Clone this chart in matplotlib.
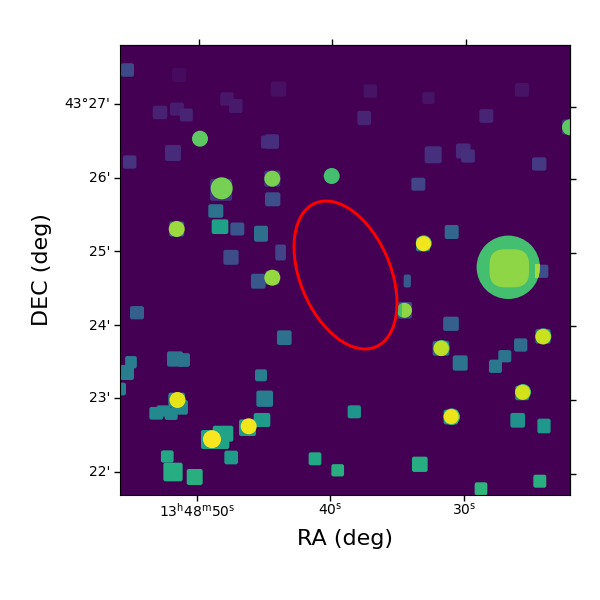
import matplotlib
matplotlib.use("Agg")
import matplotlib.pyplot as plt
from matplotlib.patches import Circle, Ellipse, FancyBboxPatch, Rectangle
from matplotlib.transforms import ScaledTranslation

# square apertures, image coordinates
square_x = [127.5, 179, 278.5, 227, 235.8, 177, 160, 186.3, 272, 267, 173, 129.7, 221.1, 272.3,
            272.7, 215.8, 220, 237.3, 261, 176.7, 231, 280.6, 370.3, 428.5, 522, 364.2, 486.3,
            433.2, 463.3, 468, 539.2, 418.3, 451.7, 423, 541.7, 407.3, 404.7, 451, 441, 460.2,
            520.7, 504.8, 495.5, 543, 522.2, 450.8, 354.3, 517.7, 544, 419.8, 539.8, 481, 337.7,
            258.3, 272.3, 137, 284.3, 175, 184, 131, 127, 119, 261, 264.7, 176.7, 179.8, 156.3,
            163.3, 171.2, 262, 247.5, 210.8, 223, 220.7, 231.2, 167.3, 173, 194.7, 315]
square_y = [70, 75, 89, 99, 106, 109, 112.5, 115, 141.5, 142, 153, 162, 189.8, 178.7, 199.3, 211,
            226.7, 229, 233.7, 229, 257.3, 252.5, 91, 98, 89.8, 118, 116, 154.8, 151, 156, 164,
            184.2, 232, 244.5, 271.3, 281, 310.3, 323.8, 348.3, 363, 345, 356.2, 366.3, 336.3,
            393, 417, 411.8, 420.3, 426, 464.3, 481.2, 488.8, 470.3, 281.2, 277.7, 312.7, 337.7,
            359, 360, 362.2, 372.5, 389, 375.3, 398.7, 400, 407.3, 413.3, 411, 413.8, 420, 427.7,
            439.5, 433.7, 440.5, 457.5, 456.5, 472, 477, 458.8]
square_w = [13, 14, 15.5, 13.5, 13.5, 14, 14.5, 13, 14, 12, 16, 13.5, 22, 16, 15.3, 15, 16.7, 14,
            14, 15, 15.3, 10.7, 13.5, 12.3, 14, 13.7, 14, 17, 14.7, 13.7, 14.3, 14, 14, 14, 13.3,
            7.3, 14.7, 15.7, 16.7, 15, 13.3, 13, 13, 15.3, 14, 14.5, 13.3, 14.7, 13.3, 15.7, 13,
            12.7, 12.7, 14.7, 14, 14, 14.7, 16, 12, 11.7, 14, 14, 12, 16.7, 16.7, 16.3, 14, 13.3,
            13, 16.7, 17, 19.7, 20.6, 17.3, 13.7, 12.7, 19.3, 16, 12.7]
square_h = [13.5, 14, 15, 13.5, 14, 13, 13.5, 13, 14.5, 13, 16, 13.3, 22, 16, 14, 13.5, 14.7, 13,
            16, 15, 15, 16, 13.3, 12, 13.7, 14.3, 13.7, 17, 15, 13.3, 13.3, 13, 14, 13.7, 13.3,
            13, 16.7, 14.3, 15, 15.3, 13.3, 12.3, 13.3, 14.7, 14.5, 14.7, 13, 14.7, 14.7, 15.3, 13,
            13, 12.3, 15, 14, 13.3, 14.7, 15.3, 13.7, 12.3, 15, 12.7, 12, 16.3, 14.7, 14.7, 12.7,
            11.3, 12.3, 14, 16.7, 19, 16, 17, 13.7, 12.3, 18.7, 16, 13]
square_flux = [0.22, 0.03, 0.04, 0.06, 0.07, 0.08, 0.09, 0.1, 0.13, 0.13, 0.12, 0.15, 0.15, 0.15,
               0.24, 0.37, 0.57, 0.26, 0.36, 0.3, 0.23, 0.2, 0.05, 0.05, 0.05, 0.1, 0.1, 0.14,
               0.12, 0.14, 0.17, 0.2, 0.33, 0.4, 0.24, 0.28, 0.2, 0.3, 0.33, 0.38, 0.35, 0.38, 0.4,
               0.33, 0.45, 0.5, 0.52, 0.5, 0.53, 0.62, 0.63, 0.65, 0.63, 0.27, 0.25, 0.3, 0.37,
               0.38, 0.38, 0.42, 0.42, 0.43, 0.42, 0.42, 0.47, 0.47, 0.47, 0.47, 0.47, 0.55, 0.55,
               0.57, 0.58, 0.58, 0.55, 0.6, 0.62, 0.63, 0.6]

# green rims under the brightest discs
rim_x = [451.7, 523, 423.8, 543.4, 441.6]
rim_y = [416.7, 392, 243.3, 336.3, 348]
rim_r = [8.3, 8, 8, 8, 8]
rim_flux = [0.68, 0.68, 0.68, 0.66, 0.66]

# circular apertures on top of them
disc_x = [200, 221.7, 272.3, 331.7, 176.7, 423.5, 404.5, 441.2, 543.1, 522.7, 451.2, 272.3, 177.5, 248.7, 212]
disc_y = [138.7, 188.3, 178.7, 176, 229, 243.6, 310.3, 348.4, 336.7, 392.3, 416.6, 277.7, 400, 426.3, 439.2]
disc_r = [8, 11, 8, 8, 8, 7.5, 7.5, 7.7, 7.7, 7.5, 7.5, 8, 8, 8, 9]
disc_flux = [0.75, 0.79, 0.8, 0.7, 0.85, 0.98, 0.83, 0.9, 0.92, 0.93, 0.97, 0.84, 0.96, 0.98, 0.99]

big_x, big_y, big_r, big_flux = 508.3, 267.3, 31.7, 0.7
core_x, core_y, core_w, core_h, core_flux = 509.3, 268.3, 39.5, 38, 0.83
edge_disc_x, edge_disc_y, edge_disc_r, edge_disc_flux = 570, 127.3, 8, 0.75
edge_square_x, edge_square_y, edge_square_w, edge_square_flux = 569.5, 127, 15, 0.15

ra_ticks_bottom = [197.3, 330.3, 464.3]
ra_ticks_top = [199.3, 332, 465.6]
dec_ticks_left = [104, 178, 251, 325, 398, 472]
dec_ticks_right = [106.6, 179.5, 253, 326, 400, 473.7]
ra_labels = ["$13^{\\mathrm{h}}48^{\\mathrm{m}}50^{\\mathrm{s}}$", "$40^{\\mathrm{s}}$", "$30^{\\mathrm{s}}$"]
dec_labels = ["43°27'", "26'", "25'", "24'", "23'", "22'"]

cmap = plt.get_cmap("viridis")


def rounded_box(x, y, w, h, flux, r=2.2):
    return FancyBboxPatch((x - w / 2 + r, y - h / 2 + r), w - 2 * r, h - 2 * r,
                          boxstyle=f"round,pad={r},rounding_size={r}",
                          facecolor=cmap(flux), edgecolor="none", linewidth=0)


fig = plt.figure(figsize=(6, 6), dpi=100)
ax = fig.add_axes([0.2, 0.175, 0.75, 0.75])
ax.set_facecolor(cmap(0.0))
ax.set_xlim(120, 570)
ax.set_ylim(495, 45)

for x, y, w, h, f in zip(square_x, square_y, square_w, square_h, square_flux):
    ax.add_patch(rounded_box(x, y, w, h, f))
ax.add_patch(rounded_box(edge_square_x, edge_square_y, edge_square_w, edge_square_w, edge_square_flux))

big = Circle((big_x, big_y), big_r, facecolor=cmap(big_flux), edgecolor="none")
ax.add_patch(big)
ax.add_patch(rounded_box(core_x, core_y, core_w, core_h, core_flux, r=15))
# the small square seen through the big circle
overlap = Rectangle((535, 264.4), 14, 14, facecolor=cmap(0.86), edgecolor="none")
ax.add_patch(overlap)
overlap.set_clip_path(big)

for x, y, r, f in zip(rim_x, rim_y, rim_r, rim_flux):
    ax.add_patch(Circle((x, y), r, facecolor=cmap(f), edgecolor="none"))
for x, y, r, f in zip(disc_x, disc_y, disc_r, disc_flux):
    d = Circle((x, y), r, facecolor=cmap(f), edgecolor="none")
    ax.add_patch(d)
    if x == 404.5:
        # this one has a darker strip down its left side
        strip = Rectangle((395, 300), 6.7, 20, facecolor=cmap(0.7), edgecolor="none")
        ax.add_patch(strip)
        strip.set_clip_path(d)
ax.add_patch(Circle((edge_disc_x, edge_disc_y), edge_disc_r, facecolor=cmap(edge_disc_flux), edgecolor="none"))

ax.add_patch(Ellipse((345.5, 275), 90.4, 156, angle=-22.8, fill=False, edgecolor="red", linewidth=2.1))

ax.set_xticks(ra_ticks_bottom, ra_labels)
ax.set_yticks(dec_ticks_left, dec_labels)
ax.tick_params(length=4, width=1, labelsize=10)
ax.tick_params(axis="x", pad=0.6)
ax.tick_params(axis="y", pad=2.8)
up = ScaledTranslation(0, 1 / 100, fig.dpi_scale_trans)
for label in ax.get_yticklabels():
    label.set_transform(label.get_transform() + up)
ax.set_xlabel("RA (deg)", fontsize=16, labelpad=6.9)
ax.set_ylabel("DEC (deg)", fontsize=16, labelpad=9)

top = ax.secondary_xaxis("top")
top.set_xticks(ra_ticks_top, [])
top.tick_params(length=4, width=1)
right = ax.secondary_yaxis("right")
right.set_yticks(dec_ticks_right, [])
right.tick_params(length=4, width=1)

fig.savefig("out.png", dpi=100)
